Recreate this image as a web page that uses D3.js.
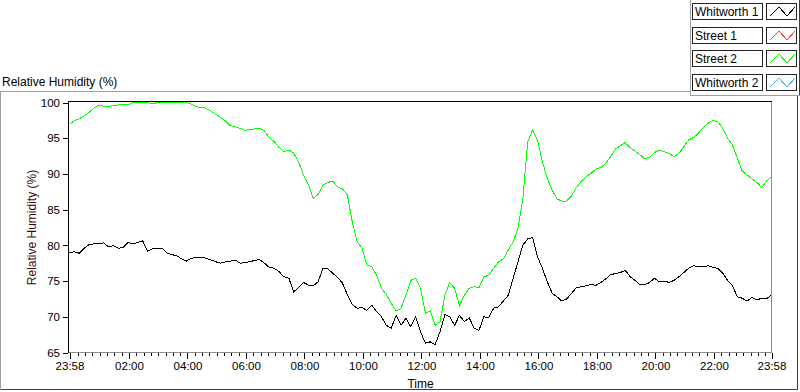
<!DOCTYPE html>
<html>
<head>
<meta charset="utf-8">
<script src="https://cdn.jsdelivr.net/npm/d3@7"></script>
<style>
  body { margin: 0; background: #fff; }
  svg { display: block; font-family: "Liberation Sans", Arial, sans-serif; }
</style>
</head>
<body>
<div id="container"></div>
<script>
/* CONSTANTS AND GLOBALS */
const width = 800,
  height = 392,
  plot = { left: 69.5, right: 771.5, top: 102.5, bottom: 352.5 };

/* DATA (one sample every 10 minutes from 23:58) */
const seriesNames = ["Whitworth 1", "Street 1", "Street 2", "Whitworth 2"];
const seriesColors = ["#000000", "#ff3c3c", "#00ff00", "#3cb4ff"];
const startTime = "23:58";
const stepMinutes = 10;

const whitworth1 = [
  79.0, 79.1, 78.9, 79.6, 80.1, 80.2, 80.2, 80.35, 79.8, 79.95,
  79.6, 79.7, 80.4, 80.2, 80.4, 80.65, 79.2, 79.5, 79.5, 79.6,
  78.9, 78.7, 78.55, 78.1, 77.8, 78.2, 78.3, 78.35, 78.2, 77.95,
  77.7, 77.5, 77.7, 77.8, 77.95, 77.5, 77.6, 77.7, 77.9, 78.0,
  77.5, 76.9, 76.8, 76.3, 75.6, 75.4, 73.5, 74.1, 74.8, 74.45,
  74.35, 74.9, 76.8, 76.7, 76.1, 75.5, 74.7, 73.1, 71.7, 71.2,
  71.3, 70.9, 71.65, 70.7, 70.0, 68.8, 68.4, 70.2, 68.8, 69.8,
  68.6, 70.0, 67.9, 66.3, 66.5, 66.1, 67.9, 70.3, 70.0, 68.8,
  70.2, 69.3, 69.85, 68.4, 68.1, 70.0, 69.85, 71.2, 71.4, 72.2,
  73.0, 75.4, 77.7, 80.05, 80.9, 81.1, 78.4, 76.8, 74.9, 73.3,
  72.8, 72.2, 72.5, 73.3, 74.1, 74.2, 74.35, 74.5, 74.4, 74.8,
  75.3, 75.9, 76.05, 76.2, 76.5, 75.6, 75.1, 74.5, 74.5, 74.8,
  75.4, 74.9, 75.0, 74.8, 75.1, 75.6, 76.2, 76.8, 77.15, 77.0,
  77.0, 77.15, 76.9, 76.8, 76.1, 75.1, 74.35, 72.8, 72.6, 72.2,
  72.7, 72.35, 72.6, 72.5, 73.1
];

const street2 = [
  96.94, 97.45, 97.7, 98.15, 98.6, 99.2, 99.65, 99.5, 99.45, 99.55,
  99.65, 99.75, 99.65, 100, 100, 100, 100, 99.8, 100, 100,
  100, 100, 100, 100, 100, 99.75, 99.4, 99.3, 99.2, 98.8,
  98.35, 97.9, 97.4, 96.75, 96.6, 96.4, 96.1, 96.25, 96.3, 96.4,
  96.0, 95.1, 94.5, 93.7, 93.1, 93.35, 92.9, 91.7, 89.85, 88.5,
  86.6, 87.1, 88.45, 88.8, 89.0, 88.2, 87.9, 87.05, 83.3, 80.5,
  79.6, 77.25, 77.0, 75.8, 74.0, 73.1, 71.9, 70.8, 71.2, 73.0,
  75.1, 75.4, 74.0, 70.5, 70.8, 68.8, 69.3, 73.0, 74.8, 74.0,
  71.55, 73.0, 74.0, 74.2, 74.1, 75.6, 75.8, 76.8, 77.7, 78.1,
  79.35, 80.5, 82.4, 86.6, 94.5, 96.15, 94.75, 91.7, 89.4, 87.75,
  86.5, 86.2, 86.2, 86.95, 88.1, 89.0, 89.6, 90.1, 90.7, 90.9,
  91.5, 92.4, 93.5, 93.95, 94.4, 93.7, 93.2, 92.7, 92.1, 92.35,
  93.0, 93.35, 93.1, 92.9, 92.4, 92.9, 93.8, 94.75, 95.1, 95.7,
  96.5, 97.1, 97.5, 97.3, 96.4, 95.0, 94.05, 92.2, 90.4, 89.85,
  89.3, 88.8, 88.1, 89.0, 89.6
];

const yTicks = [65, 70, 75, 80, 85, 90, 95, 100];
const xTickLabels = ["23:58", "02:00", "04:00", "06:00", "08:00", "10:00", "12:00",
  "14:00", "16:00", "18:00", "20:00", "22:00", "23:58"];

/* SCALES */
const t0 = new Date(2000, 0, 1, +startTime.slice(0, 2), +startTime.slice(3));
const t1 = d3.timeHour.offset(t0, 24);
const timeAt = i => d3.timeMinute.offset(t0, i * stepMinutes);

const x = d3.scaleTime().domain([t0, t1]).range([plot.left, plot.right]);
const y = d3.scaleLinear().domain([65, 100]).range([plot.bottom, plot.top]);

const majorTicks = xTickLabels.map((s, i) => {
  if (i === 0) return t0;
  if (i === xTickLabels.length - 1) return t1;
  return new Date(2000, 0, 2, +s.slice(0, 2), +s.slice(3));
});
const minorTicks = d3.timeMinute.every(15).range(t0, t1);

/* DRAW */
const svg = d3.select("#container")
  .append("svg")
  .attr("width", width)
  .attr("height", height);

// outer frame
const frame = svg.append("g").attr("shape-rendering", "crispEdges").attr("fill", "none");
frame.append("path").attr("d", "M0.5,389.5 V91.5 H690").attr("stroke", "#a0a0a0");
frame.append("path").attr("d", "M0.5,389.5 H797.5 V95").attr("stroke", "#404040");

// title
svg.append("text")
  .attr("x", 2).attr("y", 86)
  .attr("font-size", 12)
  .attr("fill", "#000")
  .text("Relative Humidity (%)");

// plot box
frame.append("path").attr("d", `M68.5,352.5 V101.5 H771.5`).attr("stroke", "#000");
frame.append("path").attr("d", `M68.5,352.5 H771.5 V101.5`).attr("stroke", "#8c8c8c");

// axes
svg.append("g")
  .attr("transform", `translate(0, 353)`)
  .call(d3.axisBottom(x).tickValues(minorTicks).tickSize(3).tickFormat(""));
svg.append("g")
  .attr("transform", `translate(0, 353)`)
  .call(d3.axisBottom(x).tickValues([...majorTicks, new Date(2000, 0, 2, 0, 0)])
    .tickSize(6).tickPadding(3)
    .tickFormat((d, i) => xTickLabels[i] || ""));
svg.append("g")
  .attr("transform", `translate(68, 0)`)
  .call(d3.axisLeft(y).tickValues(yTicks).tickSize(5).tickPadding(3));

svg.selectAll(".domain").remove();
svg.selectAll(".tick line").attr("stroke", "#000").attr("shape-rendering", "crispEdges");
svg.selectAll(".tick text")
  .attr("font-family", "Liberation Sans, Arial, sans-serif")
  .attr("font-size", 11.5)
  .attr("fill", "#000");

svg.append("text")
  .attr("x", (plot.left + plot.right) / 2).attr("y", 388)
  .attr("text-anchor", "middle")
  .attr("font-size", 12)
  .attr("fill", "#000")
  .text("Time");

svg.append("text")
  .attr("transform", `translate(36, ${(plot.top + plot.bottom) / 2}) rotate(-90)`)
  .attr("text-anchor", "middle")
  .attr("font-size", 12)
  .attr("fill", "#3a0a0a")
  .text("Relative Humidity (%)");

// lines, drawn aliased like the original
const lineGen = d3.line()
  .x((d, i) => x(timeAt(i)))
  .y(d => y(d));

[[street2, seriesColors[2]], [whitworth1, seriesColors[0]]].forEach(([data, color]) => {
  svg.append("path")
    .datum(data)
    .attr("d", lineGen)
    .attr("fill", "none")
    .attr("stroke", color)
    .attr("stroke-width", 1)
    .attr("shape-rendering", "crispEdges");
});

// legend
const legend = svg.append("g");
legend.append("rect").attr("x", 690).attr("y", 0).attr("width", 110).attr("height", 95).attr("fill", "#fff");
legend.append("path").attr("d", "M690.5,0 V95.5 H800").attr("fill", "none")
  .attr("stroke", "#a0a0a0").attr("shape-rendering", "crispEdges");
legend.append("path").attr("d", "M799.5,0 V95").attr("fill", "none")
  .attr("stroke", "#404040").attr("shape-rendering", "crispEdges");

const rows = legend.selectAll("g.row")
  .data(seriesNames)
  .join("g")
  .attr("class", "row")
  .attr("transform", (d, i) => `translate(0, ${3 + Math.round(i * 23.5)})`);

rows.append("rect")
  .attr("x", 692.5).attr("y", 0.5).attr("width", 70).attr("height", 16)
  .attr("fill", "#fff").attr("stroke", "#222").attr("shape-rendering", "crispEdges");
rows.append("text")
  .attr("x", 695).attr("y", 13)
  .attr("font-size", 12)
  .attr("fill", "#000")
  .text(d => d);
rows.append("rect")
  .attr("x", 766.5).attr("y", 0.5).attr("width", 30).attr("height", 16)
  .attr("fill", "#fff").attr("stroke", "#222").attr("shape-rendering", "crispEdges");
rows.append("path")
  .attr("d", "M770,13 L779,4 L787,13 L795,4")
  .attr("fill", "none")
  .attr("stroke", (d, i) => seriesColors[i])
  .attr("stroke-width", 1)
  .attr("shape-rendering", "crispEdges");
</script>
</body>
</html>
